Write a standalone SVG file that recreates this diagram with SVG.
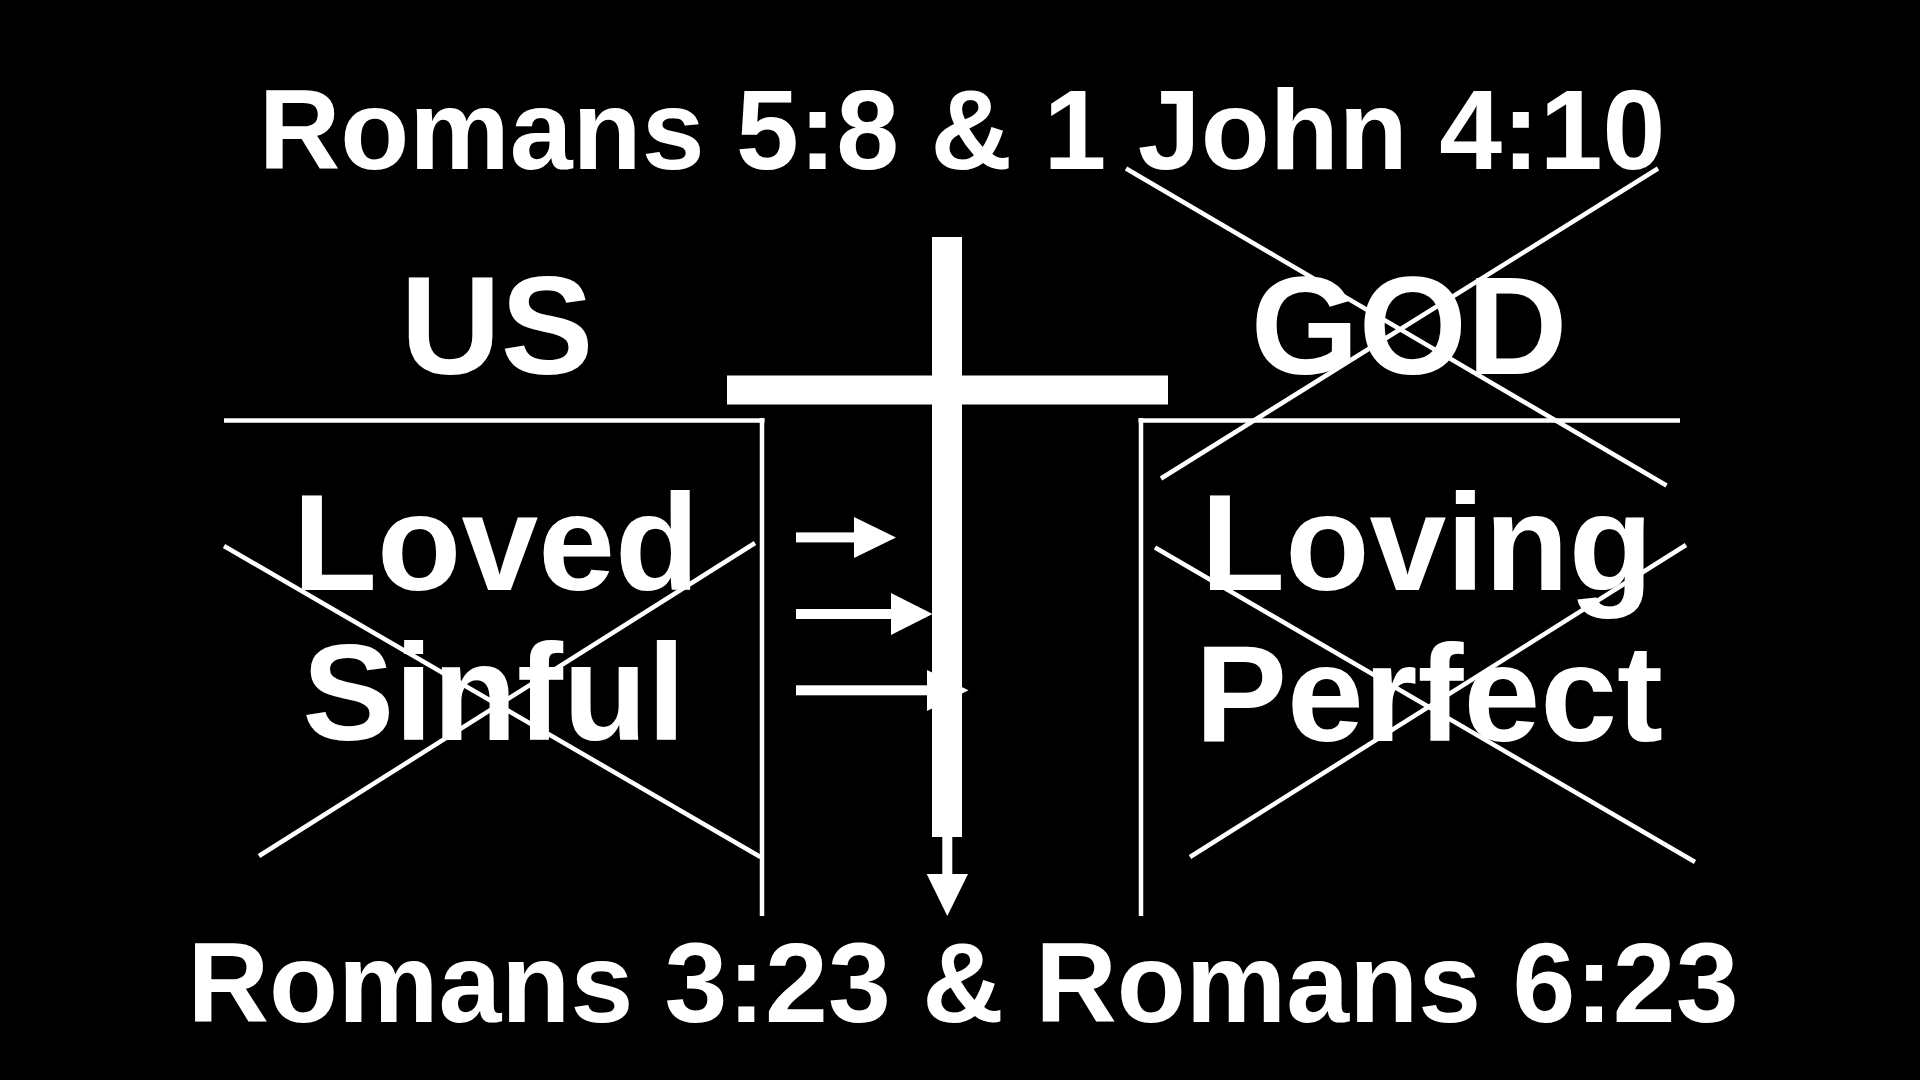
<svg xmlns="http://www.w3.org/2000/svg" width="1920" height="1080" viewBox="0 0 1920 1080">
  <style>
    .t { font-family: "Liberation Sans", Arial, Helvetica, sans-serif; font-weight: bold; fill: #ffffff; text-anchor: middle; }
    .ref { font-size: 113px; }
    .head { font-size: 139px; }
    .word { font-size: 138px; }
    .ln { stroke: #ffffff; stroke-width: 4.5; fill: none; stroke-linecap: butt; }
    .w { fill: #ffffff; }
  </style>
  <rect x="0" y="0" width="1920" height="1080" fill="#000000"/>

  <g id="title-top">
    <text class="t ref" x="962" y="169">Romans 5:8 &amp; 1 John 4:10</text>
  </g>

  <g id="us-node">
    <text class="t head" x="497" y="374">US</text>
    <line class="ln" x1="224" y1="420.5" x2="764.5" y2="420.5"/>
    <line class="ln" x1="762" y1="418" x2="762" y2="916"/>
    <text class="t word" x="496" y="590">Loved</text>
    <text class="t word" x="494" y="740">Sinful</text>
    <line class="ln" x1="224" y1="546" x2="760.5" y2="857"/>
    <line class="ln" x1="259" y1="856" x2="755" y2="543"/>
  </g>

  <g id="god-node">
    <text class="t head" x="1409" y="374">GOD</text>
    <line class="ln" x1="1138.5" y1="420.5" x2="1680" y2="420.5"/>
    <line class="ln" x1="1141" y1="418" x2="1141" y2="916"/>
    <text class="t word" x="1427" y="590">Loving</text>
    <text class="t word" x="1429" y="741">Perfect</text>
    <line class="ln" x1="1126" y1="168.5" x2="1666.5" y2="485.5"/>
    <line class="ln" x1="1161" y1="478.5" x2="1658" y2="168.5"/>
    <line class="ln" x1="1155" y1="547.5" x2="1695" y2="862"/>
    <line class="ln" x1="1190" y1="857" x2="1686" y2="545"/>
  </g>

  <g id="connectors">
    <rect class="w" x="796" y="532.4" width="58" height="10"/>
    <polygon class="w" points="854,517 896,537.4 854,558"/>
    <rect class="w" x="796" y="609" width="95" height="10"/>
    <polygon class="w" points="891,593 932.5,614 891,635"/>
    <rect class="w" x="796" y="685.3" width="131" height="10"/>
    <polygon class="w" points="927,670 968.5,690.3 927,711"/>
  </g>

  <g id="cross">
    <rect class="w" x="932" y="237" width="30" height="600"/>
    <rect class="w" x="727" y="375.5" width="441" height="29"/>
    <rect class="w" x="942.3" y="836" width="10" height="39"/>
    <polygon class="w" points="926.7,874 968,874 947.3,916"/>
  </g>

  <g id="title-bottom">
    <text class="t ref" x="963" y="1022">Romans 3:23 &amp; Romans 6:23</text>
  </g>
</svg>
